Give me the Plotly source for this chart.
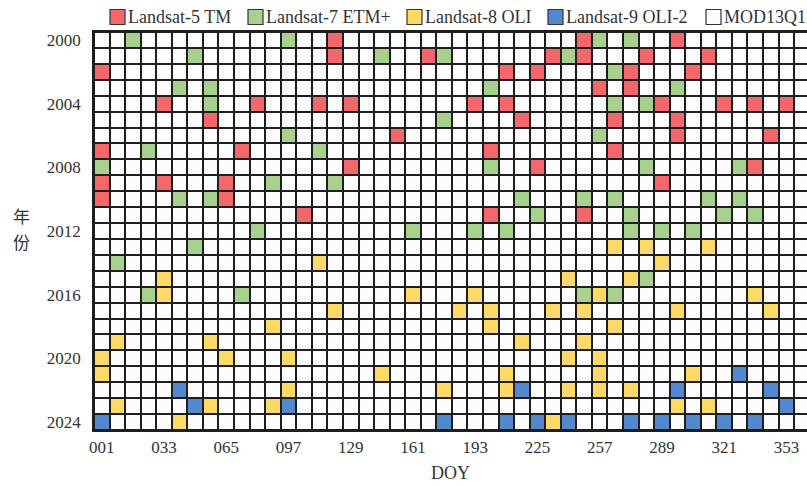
import plotly.graph_objects as go

# ---------------- data ----------------
years = list(range(2000, 2025))
doys = list(range(1, 362, 8))          # 46 eight-day slots
x_tick_vals = list(range(1, 354, 32))
x_tick_text = [f"{d:03d}" for d in x_tick_vals]
y_tick_vals = list(range(2000, 2025, 4))
y_title_chars = ["年", "份"]

sensor_names = ["MOD13Q1", "Landsat-5 TM", "Landsat-7 ETM+", "Landsat-8 OLI", "Landsat-9 OLI-2"]
sensor_colors = ["#FCFCFF", "#F4676B", "#A9D18E", "#FFD966", "#5388CC"]

landsat5 = {
    2000: [121, 249, 297],
    2001: [121, 169, 233, 249, 281, 313],
    2002: [1, 209, 225, 273, 305],
    2003: [257, 273],
    2004: [33, 81, 113, 129, 193, 209, 289, 321, 337, 353],
    2005: [57, 217, 265, 297],
    2006: [153, 297, 345],
    2007: [1, 73, 201, 265],
    2008: [129, 225, 337],
    2009: [1, 33, 65, 289],
    2010: [1, 65],
    2011: [105, 201, 249],
}
landsat7 = {
    2000: [17, 97, 257, 273],
    2001: [49, 145, 177, 241],
    2002: [265],
    2003: [41, 57, 201, 297],
    2004: [57, 265, 281],
    2005: [177],
    2006: [97, 257],
    2007: [25, 113],
    2008: [1, 201, 281, 329],
    2009: [89, 121],
    2010: [41, 57, 217, 249, 265, 313, 329],
    2011: [225, 273, 321, 337],
    2012: [81, 161, 193, 209, 273, 289, 305],
    2013: [49],
    2014: [9],
    2015: [281],
    2016: [25, 73, 249, 265],
}
landsat8 = {
    2013: [265, 281, 313],
    2014: [113, 289],
    2015: [33, 241, 273],
    2016: [33, 161, 193, 257, 337],
    2017: [121, 185, 201, 233, 249, 297, 345],
    2018: [89, 201, 265],
    2019: [9, 57, 217, 249],
    2020: [1, 65, 97, 241, 257],
    2021: [1, 145, 209, 257, 305],
    2022: [97, 177, 209, 241, 257, 273],
    2023: [9, 57, 89, 297, 313],
    2024: [41, 233],
}
landsat9 = {
    2021: [329],
    2022: [41, 217, 297, 345],
    2023: [49, 97, 353],
    2024: [1, 177, 209, 225, 241, 273, 289, 305, 321, 337],
}

# ---------------- build matrix ----------------
z = [[0 for _ in doys] for _ in years]
for code, table in enumerate([landsat5, landsat7, landsat8, landsat9], start=1):
    for yr, dlist in table.items():
        for d in dlist:
            z[years.index(yr)][doys.index(d)] = code

n = len(sensor_names)
colorscale = []
for i, c in enumerate(sensor_colors):
    colorscale.append([i / n, c])
    colorscale.append([(i + 1) / n, c])

FONT = "Liberation Serif"
TXT = "#333333"
fig = go.Figure()
fig.add_trace(go.Heatmap(
    x=doys, y=years, z=z,
    zmin=-0.5, zmax=n - 0.5,
    colorscale=colorscale, showscale=False,
    xgap=2, ygap=2, hoverinfo="skip",
))

# ---------------- layout ----------------
W, H = 807, 486
ML, MR, MT, MB = 94, 0, 32, 56
fig.update_layout(
    width=W, height=H,
    margin=dict(l=ML, r=MR, t=MT, b=MB),
    paper_bgcolor="white", plot_bgcolor="#1e1e1e",
    font=dict(family=FONT, size=17, color=TXT),
    showlegend=False,
)
fig.update_xaxes(
    range=[-3, 363.6], tickvals=x_tick_vals, ticktext=x_tick_text,
    showgrid=False, zeroline=False, ticks="", ticklabelstandoff=1,
    showline=True, linecolor="#1e1e1e", linewidth=1.5, mirror=True,
    title=dict(text="DOY", font=dict(size=18, family=FONT, color=TXT), standoff=10),
)
fig.update_yaxes(
    range=[2024.5, 1999.5], tickvals=y_tick_vals,
    showgrid=False, zeroline=False, ticks="", ticklabelstandoff=8,
    showline=True, linecolor="#1e1e1e", linewidth=1.5,
)

pw, ph = W - ML - MR, H - MT - MB
def px(xp):
    return (xp - ML) / pw
def py(yp):
    return (H - MB - yp) / ph

# y title (upright CJK, stacked)
for ch, yy in zip(y_title_chars, [215, 241]):
    fig.add_annotation(text=ch, xref="paper", yref="paper", x=px(21), y=py(yy),
                       showarrow=False, font=dict(family="Noto Sans CJK SC", size=17, color=TXT),
                       xanchor="center", yanchor="middle")

# legend
legend_left = [110, 248, 407, 548, 706]
legend_order = [1, 2, 3, 4, 0]
for lx, idx in zip(legend_left, legend_order):
    fig.add_shape(type="rect", xref="paper", yref="paper",
                  x0=px(lx), x1=px(lx + 15), y0=py(24.5), y1=py(9.5),
                  fillcolor=sensor_colors[idx], line=dict(color=TXT, width=1.2))
    fig.add_annotation(text=sensor_names[idx], xref="paper", yref="paper",
                       x=px(lx + 16), y=py(17), xanchor="left", yanchor="middle",
                       showarrow=False, font=dict(family=FONT, size=18, color=TXT))

fig.write_html(
    "out.html",
    config={"displayModeBar": False},
    post_script="document.body.style.margin='0';document.body.style.overflow='hidden';",
)
